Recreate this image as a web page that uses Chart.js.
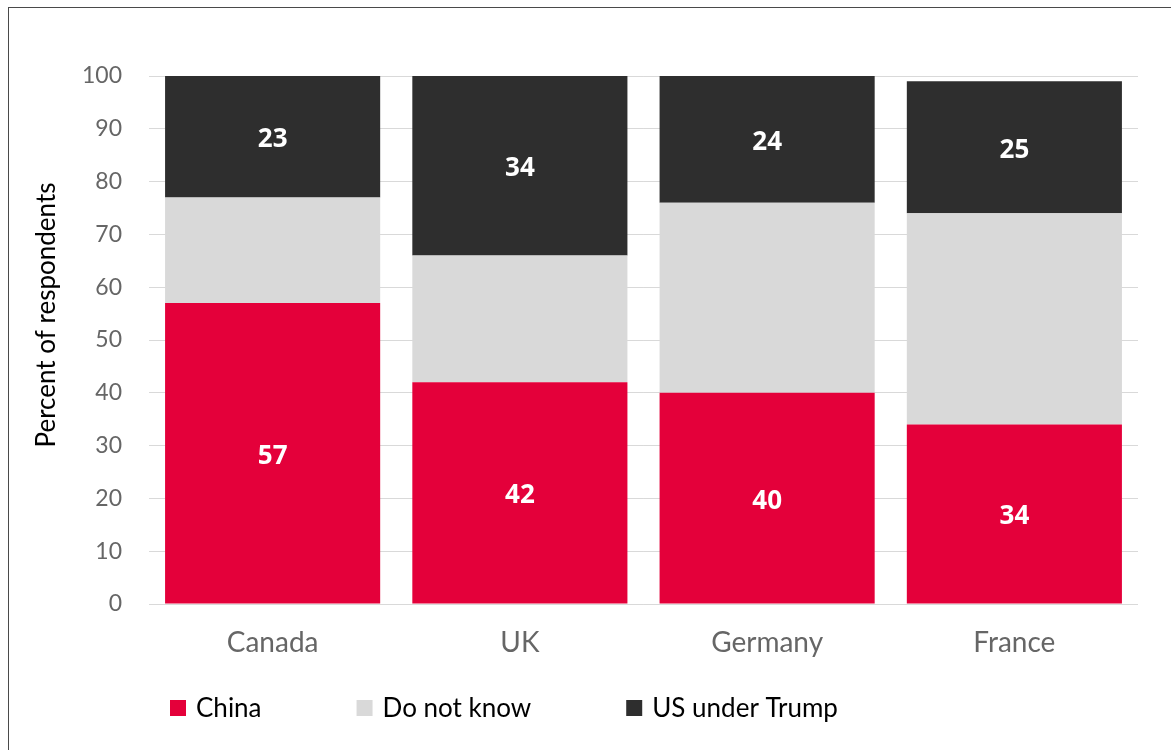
<!DOCTYPE html>
<html>
<head>
<meta charset="utf-8">
<script src="https://cdn.jsdelivr.net/npm/chart.js@4.4.1/dist/chart.umd.min.js"></script>
<style>
  html, body { margin: 0; padding: 0; background: #fff; }
  #wrap { position: relative; width: 1171px; height: 750px; overflow: hidden; }
  #frame {
    position: absolute; left: 8px; top: 7px; width: 1300px; height: 900px;
    border-left: 1.5px solid #4a4a4a; border-top: 1.5px solid #4a4a4a;
  }
  canvas { position: absolute; left: 0; top: 0; }
</style>
</head>
<body>
<div id="wrap">
  <div id="frame"></div>
  <canvas id="chart" width="1171" height="750"></canvas>
</div>
<script>
const countries = ['Canada', 'UK', 'Germany', 'France'];
const china = [57, 42, 40, 34];
const dontKnow = [20, 24, 36, 40];
const usTrump = [23, 34, 24, 25];

const yTitle = 'Percent of respondents';

const red = '#e4003a';
const grey = '#d9d9d9';
const dark = '#2e2e2e';

const axisFont = 'Lato, "Noto Sans", sans-serif';

// white value labels in the middle of the red and dark segments
const valueLabels = {
    id: 'valueLabels',
    afterDatasetsDraw(chart) {
        const ctx = chart.ctx;
        ctx.save();
        ctx.fillStyle = '#fff';
        ctx.font = 'bold 26px "Open Sans", sans-serif';
        ctx.textAlign = 'center';
        ctx.textBaseline = 'middle';
        chart.data.datasets.forEach((ds, i) => {
            if (!ds.showValues) return;
            chart.getDatasetMeta(i).data.forEach((bar, j) => {
                const mid = (bar.y + bar.base) / 2;
                ctx.fillText(ds.data[j], bar.x, mid + 3);
            });
        });
        ctx.restore();
    }
};

// rotated y title, sitting a bit above the middle of the axis
const sideTitle = {
    id: 'sideTitle',
    afterDraw(chart) {
        const ctx = chart.ctx;
        const area = chart.chartArea;
        ctx.save();
        ctx.translate(47, (area.top + area.bottom) / 2 - 25);
        ctx.rotate(-Math.PI / 2);
        ctx.font = '26px ' + axisFont;
        ctx.fillStyle = '#000';
        ctx.textAlign = 'center';
        ctx.textBaseline = 'middle';
        ctx.fillText(yTitle, 0, 0);
        ctx.restore();
    }
};

// legend row under the axis
const bottomLegend = {
    id: 'bottomLegend',
    afterDraw(chart) {
        const ctx = chart.ctx;
        const y = 708;
        let x = chart.chartArea.left + 21;
        ctx.save();
        ctx.font = '26px ' + axisFont;
        ctx.textBaseline = 'middle';
        chart.data.datasets.forEach(ds => {
            ctx.fillStyle = ds.backgroundColor;
            ctx.fillRect(x, y - 8, 16, 16);
            ctx.fillStyle = '#000';
            ctx.fillText(ds.label, x + 26, y + 1);
            x += 26 + ctx.measureText(ds.label).width + 95;
        });
        ctx.restore();
    }
};

new Chart(document.getElementById('chart'), {
    type: 'bar',
    data: {
        labels: countries,
        datasets: [
            { label: 'China', data: china, backgroundColor: red, showValues: true },
            { label: 'Do not know', data: dontKnow, backgroundColor: grey, showValues: false },
            { label: 'US under Trump', data: usTrump, backgroundColor: dark, showValues: true }
        ]
    },
    options: {
        responsive: false,
        animation: false,
        layout: { padding: { top: 76, right: 33, bottom: 0, left: 0 } },
        datasets: {
            bar: { barPercentage: 0.87, categoryPercentage: 1, borderWidth: 0 }
        },
        scales: {
            x: {
                stacked: true,
                grid: { display: false },
                border: { display: false },
                ticks: {
                    color: '#666',
                    font: { family: axisFont, size: 28 },
                    padding: 14
                },
                afterFit(scale) { scale.height = 146; }
            },
            y: {
                stacked: true,
                min: 0,
                max: 100,
                z: 1, // grid lines sit on top of the bars
                grid: { color: 'rgba(0,0,0,0.15)', drawTicks: false },
                border: { display: false },
                ticks: {
                    stepSize: 10,
                    color: '#666',
                    font: { family: axisFont, size: 23 },
                    padding: 27
                },
                afterFit(scale) { scale.width = 149; }
            }
        },
        plugins: {
            legend: { display: false },
            tooltip: { enabled: false }
        }
    },
    plugins: [valueLabels, sideTitle, bottomLegend]
});
</script>
</body>
</html>
